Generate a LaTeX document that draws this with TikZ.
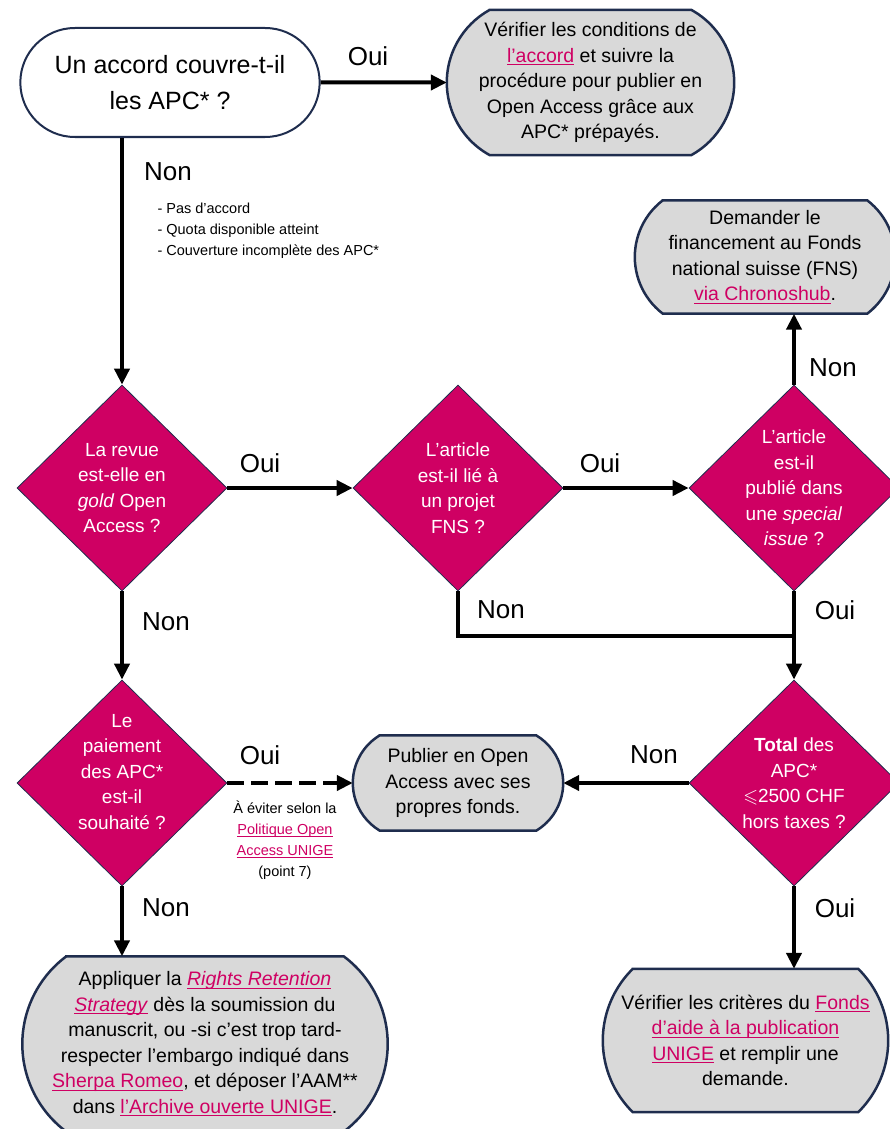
\documentclass[tikz,border=0pt]{standalone}
\usepackage{amssymb}
\usepackage{fontspec}
\setmainfont{Liberation Sans}
\usetikzlibrary{shapes.geometric,shapes.misc,arrows.meta,backgrounds}

\definecolor{unipink}{HTML}{CF0063}
\definecolor{navy}{HTML}{1F2D4E}
\definecolor{boxgray}{HTML}{D9D9D9}
\newcommand{\lnk}[1]{{\color{unipink}\setbox0=\hbox{#1}\rlap{\rule[-3pt]{\wd0}{1.2pt}}\box0}}
% outline of a box with flat round ends: #1 node, #2 bulge of the ends (pt)
\newcommand{\drawstadium}[2]{%
	\pgfpointanchor{#1}{north east}\pgfgetlastxy{\sxr}{\syt}%
	\pgfpointanchor{#1}{south west}\pgfgetlastxy{\sxl}{\syb}%
	\pgfmathsetmacro\shh{(\syt-\syb)/2}%
	\pgfmathsetmacro\srr{(\shh*\shh+#2*#2)/(2*#2)}%
	\pgfmathsetmacro\sth{asin(\shh/\srr)}%
	\draw[boxline] (\sxl+#2pt,\syt) -- (\sxr-#2pt,\syt) arc[start angle=\sth, end angle=-\sth, radius=\srr pt]
		-- (\sxl+#2pt,\syb) arc[start angle=180+\sth, end angle=180-\sth, radius=\srr pt] -- cycle;
}

\begin{document}
\begin{tikzpicture}[x=1pt,y=-1pt,
	askbox/.style={rounded rectangle, draw=navy, line width=2pt, fill=white, align=center, font=\fontsize{25}{36}\selectfont, minimum width=306pt, minimum height=109pt},
	stepbox/.style={rectangle, inner sep=0pt, align=center, font=\fontsize{19.5}{25.5}\selectfont},
	boxline/.style={draw=navy, line width=2.5pt, fill=boxgray},
	decision/.style={diamond, draw=navy, line width=0.8pt, fill=unipink, minimum width=210pt, minimum height=206pt, inner sep=0pt},
	dlab/.style={text=white, align=center, font=\fontsize{19}{25.5}\selectfont},
	answer/.style={font=\fontsize{26}{30}\selectfont},
	remark/.style={font=\fontsize{14.5}{21}\selectfont},
	flow/.style={line width=4pt, -{Triangle[length=16pt,width=15pt]}}]
	%\draw[help lines] (0,0) grid (890,1129);
	\useasboundingbox (0,0) rectangle (890,1129);

	\node[askbox] (accord) at (170,82.5) {Un accord couvre-t-il\\les APC* ?};
	\node[stepbox, minimum width=287pt, minimum height=145pt] (conditions) at (590.5,82.5) {Vérifier les conditions de\\\lnk{l'accord} et suivre la\\procédure pour publier en\\Open Access grâce aux\\APC* prépayés.};
	\node[stepbox, minimum width=260pt, minimum height=113pt] (chronoshub) at (765,257) {Demander le\\financement au Fonds\\national suisse (FNS)\\\lnk{via Chronoshub}.};

	\node[decision, label={[dlab]center:{La revue\\est-elle en\\\textit{gold} Open\\Access ?}}] (gold) at (122,488) {};
	\node[decision, label={[dlab]center:{L’article\\est-il lié à\\un projet\\FNS ?}}] (projet) at (458,488) {};
	\node[decision, label={[dlab]center:{L’article\\est-il\\publié dans\\une \textit{special}\\\textit{issue} ?}}] (special) at (794,488) {};
	\node[decision, label={[dlab]center:{\textbf{Total} des\\APC*\\$\leqslant$2500 CHF\\hors taxes ?}}] (total) at (794,783) {};
	\node[decision, label={[dlab,yshift=11pt]center:{Le\\paiement\\des APC*\\est-il\\souhaité ?}}] (paiement) at (122,783) {};

	\node[stepbox, minimum width=210pt, minimum height=95pt] (propres) at (458,783) {Publier en Open\\Access avec ses\\propres fonds.};
	\node[stepbox, minimum width=365pt, minimum height=175pt] (rrs) at (205,1044) {Appliquer la \lnk{\textit{Rights Retention}}\\\lnk{\textit{Strategy}} dès la soumission du\\manuscrit, ou -si c’est trop tard-\\respecter l’embargo indiqué dans\\\lnk{Sherpa Romeo}, et déposer l’AAM**\\dans \lnk{l'Archive ouverte UNIGE}.};
	\node[stepbox, minimum width=285pt, minimum height=143pt] (fonds) at (745.5,1040.5) {Vérifier les critères du \lnk{Fonds}\\\lnk{d’aide à la publication}\\\lnk{UNIGE} et remplir une\\demande.};

	\begin{scope}[on background layer]
		\drawstadium{conditions}{43}
		\drawstadium{chronoshub}{28}
		\drawstadium{propres}{27}
		\drawstadium{rrs}{44}
		\drawstadium{fonds}{30}
	\end{scope}

	\coordinate (join) at (794,636);

	\draw[flow] (accord) -- (conditions);
	\draw[flow] (gold.north |- accord.south) -- (gold.north);
	\draw[flow] (gold) -- (projet);
	\draw[flow] (projet) -- (special);
	\draw[flow] (special.north) -- (special.north |- chronoshub.south);
	\draw[line width=4pt] (projet.south) |- (join);
	\draw[flow] (special) -- (total);
	\draw[flow] (total) -- (propres);
	\draw[flow, dash pattern=on 17pt off 7pt] (paiement) -- (propres);
	\draw[flow] (gold) -- (paiement);
	\draw[flow] (paiement.south) -- (paiement.south |- rrs.north);
	\draw[flow] (total.south) -- (total.south |- fonds.north);

	\node[answer] (oui1) at (368,56) {Oui};
	\node[answer] (non1) at (168,172) {Non};
	\node[remark, anchor=west, align=left] (raisons) at (154,231) {- Pas d’accord\\- Quota disponible atteint\\- Couverture incomplète des APC*};
	\node[answer] (oui2) at (260,463) {Oui};
	\node[answer] (oui3) at (600,463) {Oui};
	\node[answer] (non2) at (833,368) {Non};
	\node[answer] (non3) at (166,622) {Non};
	\node[answer] (non4) at (501,610) {Non};
	\node[answer] (oui4) at (835,610) {Oui};
	\node[answer] (oui5) at (260,755) {Oui};
	\node[answer] (non5) at (654,755) {Non};
	\node[answer] (non6) at (166,908) {Non};
	\node[answer] (oui6) at (835,908) {Oui};
	\node[remark, align=center] (politique) at (285,840) {À éviter selon la\\\lnk{Politique Open}\\\lnk{Access UNIGE}\\(point 7)};

\end{tikzpicture}
\end{document}
